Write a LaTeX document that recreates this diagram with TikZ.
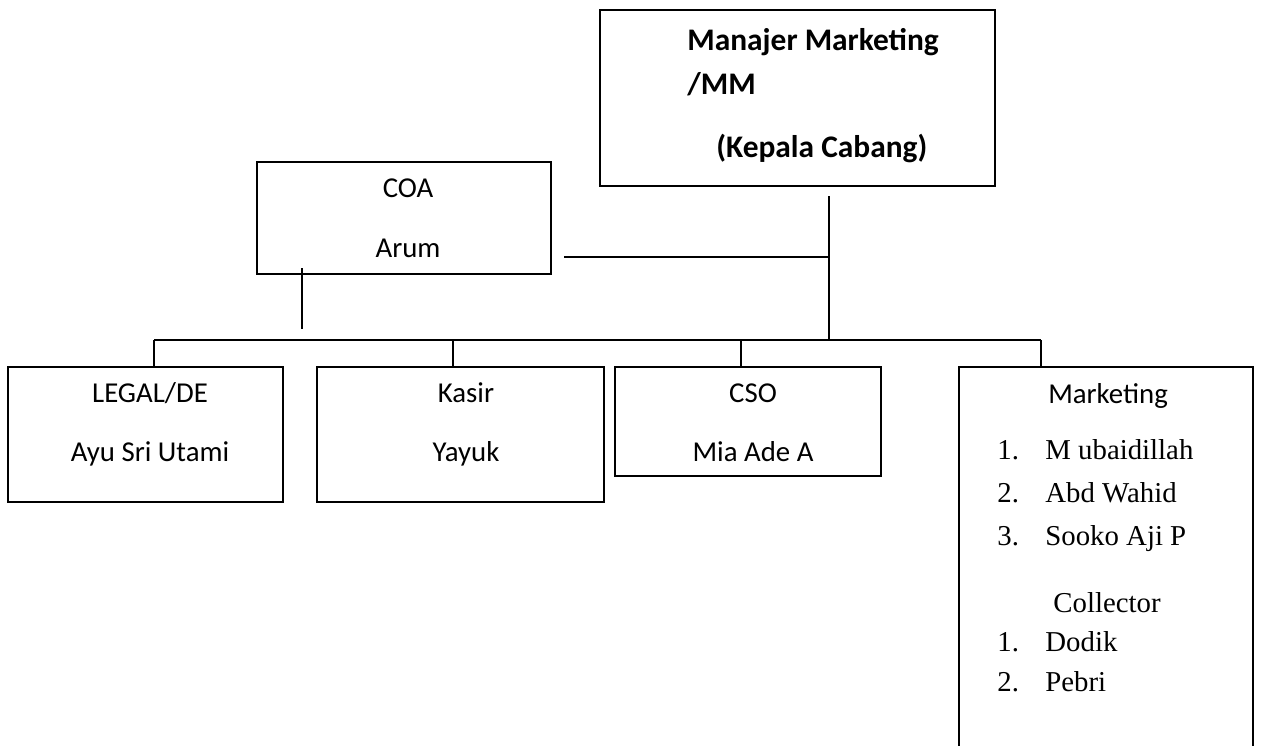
\documentclass[tikz,border=0pt]{standalone}
\usepackage{fontspec}
\setmainfont{Carlito}
\newfontfamily\tnr{Liberation Serif}
\begin{document}
\begin{tikzpicture}[x=0.5pt,y=-0.5pt,
  box/.style={draw, line width=1pt, inner sep=0pt, outer sep=0pt},
  conn/.style={draw, line width=0.75pt},
  lbl/.style={font=\fontsize{14.4}{17}\selectfont, anchor=base, inner sep=0pt},
  ser/.style={font=\tnr\fontsize{14.4}{17}\selectfont, anchor=base west, inner sep=0pt},
  mmtxt/.style={font=\bfseries\fontsize{15.7}{19}\selectfont, anchor=base west, inner sep=0pt}]
\useasboundingbox (0,0) rectangle (1261,745);
\clip (0,0) rectangle (1261,745);
\fill[white] (0,0) rectangle (1261,745);
% boxes
\node[box, minimum width=197.5pt, minimum height=88pt] (mm) at (797.5,98) {};
\node[box, minimum width=147pt, minimum height=56pt] (coa) at (404,218) {};
\node[box, minimum width=137.5pt, minimum height=67.5pt] (legal) at (145.5,434.5) {};
\node[box, minimum width=143.5pt, minimum height=67.5pt] (kasir) at (460.5,434.5) {};
\node[box, minimum width=133pt, minimum height=54.5pt] (cso) at (748,421.5) {};
\node[box, minimum width=147pt, minimum height=216.5pt] (mkt) at (1106,583.5) {};
% texts
\node[mmtxt] (mm1) at (687,50) {Manajer Marketing};
\node[mmtxt] (mm2) at (687,94) {/MM};
\node[mmtxt] (mm3) at (716,157) {(Kepala Cabang)};
\node[lbl] (coa1) at (408,197) {COA};
\node[lbl] (coa2) at (408,257) {Arum};
\node[lbl] (legal1) at (150,402) {LEGAL/DE};
\node[lbl] (legal2) at (150,461) {Ayu Sri Utami};
\node[lbl] (kasir1) at (466,402) {Kasir};
\node[lbl] (kasir2) at (466,461) {Yayuk};
\node[lbl] (cso1) at (753,402) {CSO};
\node[lbl] (cso2) at (753,461) {Mia Ade A};
\node[lbl] (mkt0) at (1108,403) {Marketing};
\node[ser] (n1) at (997,459) {1.};
\node[ser] (m1) at (1045,459) {M ubaidillah};
\node[ser] (n2) at (997,502) {2.};
\node[ser] (m2) at (1045,502) {Abd Wahid};
\node[ser] (n3) at (997,545) {3.};
\node[ser] (m3) at (1045,545) {Sooko Aji P};
\node[ser, anchor=base] (coll) at (1107,612) {Collector};
\node[ser] (n4) at (997,651) {1.};
\node[ser] (c1) at (1045,651) {Dodik};
\node[ser] (n5) at (997,691) {2.};
\node[ser] (c2) at (1045,691) {Pebri};
% connectors
\coordinate (mmstem) at (829,196);
\coordinate (jm) at (829,340);
\draw[conn] (mmstem) -- (jm);
\coordinate (coaR) at (564,257);
\draw[conn] (coaR) -- (coaR -| jm);
\coordinate (coaS1) at (302,268);
\coordinate (coaS2) at (302,329);
\draw[conn] (coaS1) -- (coaS2);
\coordinate (b1) at (154,340);
\coordinate (b2) at (453,340);
\coordinate (b3) at (741,340);
\coordinate (b4) at (1041,340);
\draw[conn] (b1) -- (b4);
\draw[conn] (b1) -- (b1 |- legal.north);
\draw[conn] (b2) -- (b2 |- kasir.north);
\draw[conn] (b3) -- (b3 |- cso.north);
\draw[conn] (b4) -- (b4 |- mkt.north);
\end{tikzpicture}
\end{document}
